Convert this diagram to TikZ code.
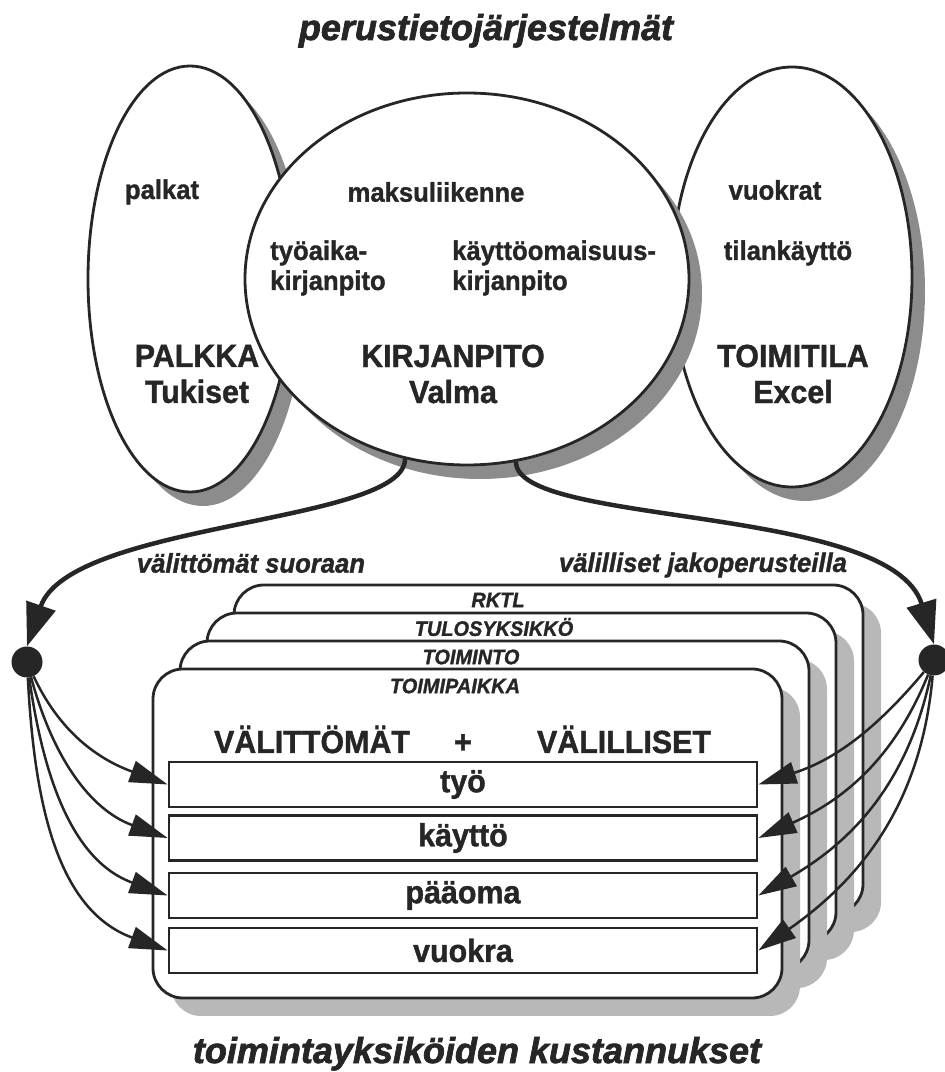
\documentclass[tikz,border=0pt]{standalone}
\usepackage{fontspec}
\setmainfont{Liberation Sans}[FakeStretch=0.95, BoldFeatures={FakeBold=1.2}, BoldItalicFeatures={FakeBold=1.2}]
\newfontfamily\titlefont{Liberation Sans}[BoldItalicFeatures={FakeBold=2}]
\usetikzlibrary{shapes.geometric,arrows.meta,shadows}
\definecolor{ink}{gray}{0.15}
\definecolor{shade}{gray}{0.55}
\definecolor{boxshade}{gray}{0.72}

\begin{document}
\begin{tikzpicture}[x=1pt, y=1pt,
    sysellipse/.style={ellipse, draw=ink, line width=2.8pt, fill=white, inner sep=0pt,
      drop shadow={shadow xshift=13pt, shadow yshift=-14pt, fill=shade, opacity=1}},
    unitbox/.style={rectangle, rounded corners=30pt, draw=ink, line width=2.8pt, fill=white,
      minimum width=629pt, minimum height=329pt,
      drop shadow={shadow xshift=18pt, shadow yshift=-18pt, fill=boxshade, opacity=1}},
    costrow/.style={rectangle, draw=ink, line width=2.8pt, fill=white, inner sep=0pt,
      minimum width=588pt, minimum height=45pt, text=ink, font=\fontsize{32}{36}\selectfont\bfseries},
    smalllbl/.style={inner sep=0pt, text=ink, font=\fontsize{27}{30}\selectfont\bfseries},
    biglbl/.style={inner sep=0pt, text=ink, align=center, font=\fontsize{32}{36}\selectfont\bfseries},
    arclbl/.style={inner sep=0pt, text=ink, font=\fontsize{27}{30}\selectfont\bfseries\itshape},
    unitlbl/.style={inner sep=0pt, text=ink, font=\fontsize{21}{24}\selectfont\bfseries\itshape},
    maintitle/.style={inner sep=0pt, text=ink, font=\titlefont\fontsize{36}{40}\selectfont\bfseries\itshape},
    joindot/.style={circle, fill=ink, inner sep=0pt, minimum size=31pt},
    mainarc/.style={draw=ink, line width=4.5pt, -{Triangle[length=43pt, width=30pt]}},
    rowarrow/.style={draw=ink, line width=2.5pt, -{Triangle[length=38pt, width=22pt]}}]

  % fix the frame
  \useasboundingbox (0,0) rectangle (945,1072);

  % title
  \node[maintitle, anchor=base] (toptitle) at (486,1032) {perustietojärjestelmät};

  % the three systems
  \node[sysellipse, minimum width=240pt, minimum height=420pt] (toimitila) at (792,795) {};
  \node[sysellipse, minimum width=204pt, minimum height=426pt] (palkka) at (190,793) {};
  \node[sysellipse, minimum width=444pt, minimum height=372pt] (kirjanpito) at (467,793) {};

  % texts in the ellipses
  \node[smalllbl] (palkat) at (162,880) {palkat};
  \node[biglbl] (palkkatxt) at (197,698) {PALKKA\\Tukiset};
  \node[smalllbl] (maksu) at (436,880) {maksuliikenne};
  \node[smalllbl, anchor=west, align=left] (tyoaika) at (270,804) {työaika-\\kirjanpito};
  \node[smalllbl, anchor=west, align=left] (kayttoom) at (452,804) {käyttöomaisuus-\\kirjanpito};
  \node[biglbl] (kirjanpitotxt) at (453,698) {KIRJANPITO\\Valma};
  \node[smalllbl] (vuokrat) at (775,882) {vuokrat};
  \node[smalllbl] (tilankaytto) at (788,819) {tilankäyttö};
  \node[biglbl] (toimitilatxt) at (793,698) {TOIMITILA\\Excel};

  % stack of units, back to front
  \node[unitbox] (rktl) at (548.5,322.5) {};
  \node[unitbox] (tulos) at (521.5,294.5) {};
  \node[unitbox] (toiminto) at (494.5,266.5) {};
  \node[unitbox] (toimipaikka) at (467.5,238.5) {};
  \node[unitlbl] (rktltxt) at (498,472) {RKTL};
  \node[unitlbl] (tulostxt) at (494,445) {TULOSYKSIKKÖ};
  \node[unitlbl] (toimintotxt) at (471,415) {TOIMINTO};
  \node[unitlbl] (toimipaikkatxt) at (455,386) {TOIMIPAIKKA};

  % header of the front unit
  \node[biglbl, anchor=base] (valittomat) at (312,319) {VÄLITTÖMÄT};
  \node[biglbl, anchor=base] (plus) at (463,319) {+};
  \node[biglbl, anchor=base] (valilliset) at (624,319) {VÄLILLISET};

  % cost rows
  \node[costrow] (tyo) at (463,287.5) {työ};
  \node[costrow] (kaytto) at (463,234) {käyttö};
  \node[costrow] (paaoma) at (463,176.5) {pääoma};
  \node[costrow] (vuokra) at (463,121.5) {vuokra};

  % the two collecting points
  \node[joindot] (ldot) at (27,410) {};
  \node[joindot] (rdot) at (934,412) {};

  % main arcs out of the ledger
  \draw[mainarc] (kirjanpito.251) to[out=-90, in=71, out distance=65pt, in distance=132pt] (ldot.north);
  \draw[mainarc] (kirjanpito.285) to[out=-90, in=107, out distance=65pt, in distance=147pt] (rdot.north);
  \node[arclbl] (suoraan) at (251,509) {välittömät suoraan};
  \node[arclbl] (jako) at (703,507) {välilliset jakoperusteilla};

  % fan out to the rows
  \foreach \row/\o in {tyo/-65, kaytto/-75, paaoma/-82, vuokra/-87}
    \draw[rowarrow] (ldot) to[out=\o, in=160] (\row.west);
  \foreach \row/\o/\i in {tyo/-130/18, kaytto/-112/24, paaoma/-102/30, vuokra/-95/35}
    \draw[rowarrow] (rdot) to[out=\o, in=\i] (\row.east);

  % bottom title
  \node[maintitle, anchor=base] (bottomtitle) at (477,9) {toimintayksiköiden kustannukset};
\end{tikzpicture}
\end{document}
